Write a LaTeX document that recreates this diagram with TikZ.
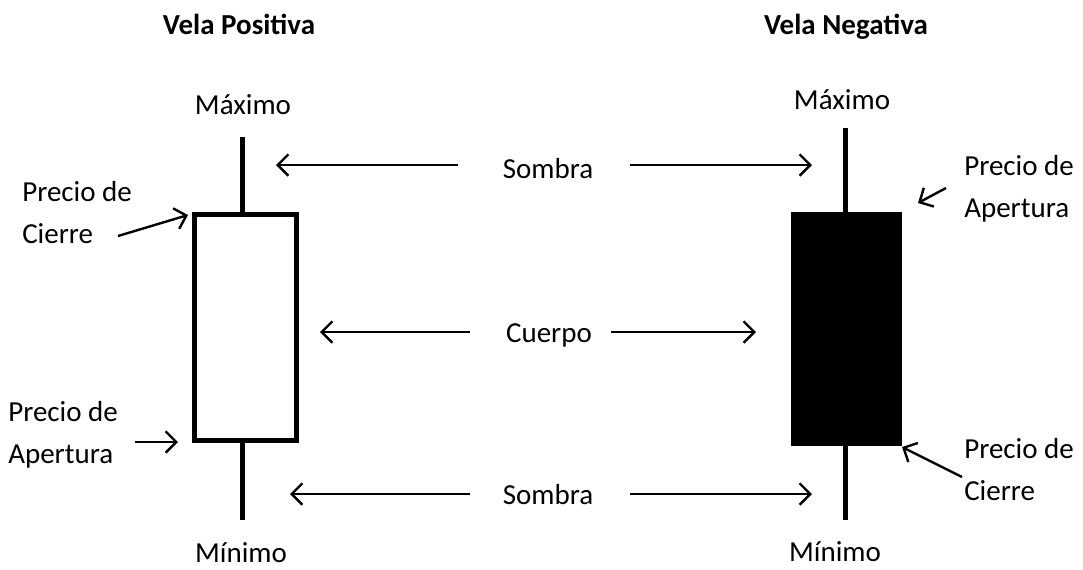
\documentclass[tikz,border=0pt]{standalone}
\usepackage{fontspec}
\setmainfont{Carlito}
\usetikzlibrary{arrows.meta}
\begin{document}
\begin{tikzpicture}[x=0.75pt,y=-0.75pt,
  ml/.style={inner sep=0pt,font=\fontsize{21.75pt}{31.5pt}\selectfont},
  txt/.style={inner sep=0pt,text height=15.2pt,text depth=0pt,font=\fontsize{21.75pt}{31.5pt}\selectfont},
  ttl/.style={txt,font=\fontsize{21.75pt}{31.5pt}\selectfont\bfseries},
  wick/.style={line width=3.75pt},
  body/.style={line width=4pt},
  arr/.style={line width=1.8pt,-{Straight Barb[length=8pt,width=16pt,line width=1.8pt]}}]
\useasboundingbox (0,0) rectangle (1083,569);
% titles
\node[ttl] (t1) at (239,24) {Vela Positiva};
\node[ttl] (t2) at (846,24) {Vela Negativa};
% positive candle
\coordinate (pTop) at (242,137);
\coordinate (pBot) at (242,520);
\node[draw,body,minimum width=107*0.75pt-4pt,minimum height=231*0.75pt-4pt,inner sep=0pt] (pbody) at (245.5,327.5) {};
\draw[wick] (pTop) -- (pbody.north -| pTop);
\draw[wick] (pbody.south -| pBot) -- (pBot);
% negative candle
\coordinate (nTop) at (845,128);
\coordinate (nBot) at (845,520);
\node[fill=black,draw,line width=0.5pt,minimum width=110*0.75pt,minimum height=233*0.75pt,inner sep=0pt] (nbody) at (846,328.5) {};
\draw[wick] (nTop) -- (nbody.north -| nTop);
\draw[wick] (nbody.south -| nBot) -- (nBot);
% labels max/min
\node[txt] (max1) at (243,104) {Máximo};
\node[txt] (max2) at (842,99) {Máximo};
\node[txt] (min1) at (241,552) {Mínimo};
\node[txt] (min2) at (835,551) {Mínimo};
% middle labels
\node[txt] (s1) at (548,168) {Sombra};
\node[txt] (c1) at (549,332) {Cuerpo};
\node[txt] (s2) at (548,494) {Sombra};
\coordinate (s1a) at (458,165); \coordinate (s1b) at (276,165);
\coordinate (s1c) at (630,165); \coordinate (s1d) at (812,165);
\coordinate (c1a) at (470,332); \coordinate (c1b) at (320,332);
\coordinate (c1c) at (611,332); \coordinate (c1d) at (756,332);
\coordinate (s2a) at (470,494); \coordinate (s2b) at (290,494);
\coordinate (s2c) at (630,494); \coordinate (s2d) at (812,494);
\draw[arr] (s1a) -- (s1b);
\draw[arr] (s1c) -- (s1d);
\draw[arr] (c1a) -- (c1b);
\draw[arr] (c1c) -- (c1d);
\draw[arr] (s2a) -- (s2b);
\draw[arr] (s2c) -- (s2d);
% side labels
\node[ml,align=left,anchor=west] (lc) at (22,213) {Precio de\\Cierre};
\node[ml,align=left,anchor=west] (la) at (8,435) {Precio de\\Apertura};
\node[ml,align=left,anchor=west] (ra) at (964,189) {Precio de\\Apertura};
\node[ml,align=left,anchor=west] (rc) at (964,470) {Precio de\\Cierre};
\coordinate (lca) at (118,236); \coordinate (lcb) at (188,215);
\coordinate (laa) at (135,442); \coordinate (lab) at (178,442);
\coordinate (raa) at (946,188); \coordinate (rab) at (918,203);
\coordinate (rca) at (962,477); \coordinate (rcb) at (902,447);
\draw[arr] (lca) -- (lcb);
\draw[arr] (laa) -- (lab);
\draw[arr] (raa) -- (rab);
\draw[arr] (rca) -- (rcb);
\end{tikzpicture}
\end{document}
